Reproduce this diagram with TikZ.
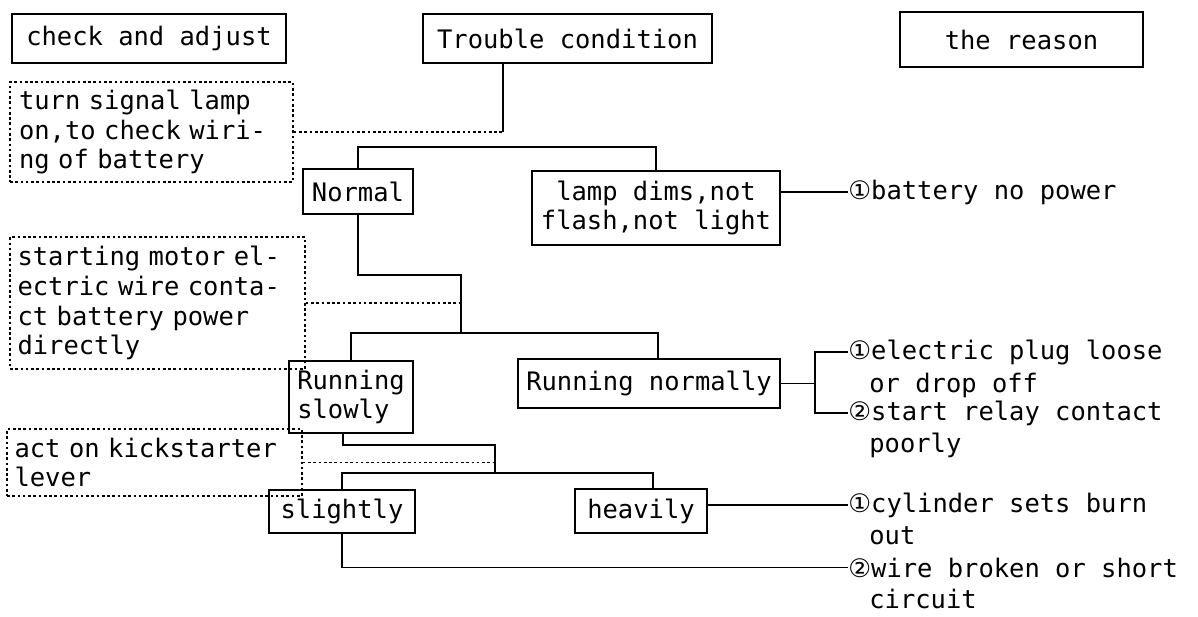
\documentclass[tikz,border=0pt]{standalone}
\usepackage{fontspec}
\setmainfont{DejaVu Sans Mono}
\newfontfamily\circfont{DejaVu Sans}
\usetikzlibrary{positioning}
\newcommand{\cno}{{\circfont ①}}
\newcommand{\cnt}{{\circfont ②}}

\begin{document}
\begin{tikzpicture}[x=0.02cm,y=-0.02cm,
  every node/.style={font=\fontsize{14.5}{17}\selectfont},
  box/.style={draw,line width=1.2pt,inner sep=0pt},
  note/.style={draw,line width=1pt,dash pattern=on 1.5pt off 1.5pt,align=left,inner xsep=0.15cm,inner ysep=0pt,text width=5.6cm},
  why/.style={anchor=base west,inner sep=0pt},
  link/.style={line width=1pt},
  dotline/.style={line width=1pt,dash pattern=on 1.5pt off 1.5pt}]
\useasboundingbox (0,0) rectangle (1198,616);
% headings
\node[box,minimum width=5.48cm,minimum height=0.98cm] (adj) at (149,38.5) {check and adjust};
\node[box,minimum width=5.78cm,minimum height=0.98cm] (trb) at (567.5,38.5) {Trouble condition};
\node[box,minimum width=4.86cm,minimum height=1.1cm] (rsn) at (1021.5,39.5) {the reason};
% checks
\node[note,text width=5.3cm,inner xsep=0.18cm,minimum height=2cm] (tsl) at (151.5,132) {turn signal lamp\\on,to check wiri-\\ng of battery};
\node[note,minimum height=2.64cm] (smt) at (157.5,303) {starting motor el-\\ectric wire conta-\\ct battery power\\directly};
\node[note,minimum height=1.34cm] (kck) at (154.5,462.5) {act on kickstarter\\lever};
% conditions
\node[box,minimum width=2.2cm,minimum height=0.9cm] (nrm) at (358,191.5) {Normal};
\node[box,align=center,minimum width=4.96cm,minimum height=1.48cm] (lmp) at (656,208) {lamp dims,not\\flash,not light};
\node[box,align=left,minimum width=2.48cm,minimum height=1.44cm] (rsl) at (351,397) {Running\\slowly};
\node[box,minimum width=5.24cm,minimum height=0.98cm] (rnm) at (649,383.5) {Running normally};
\node[box,minimum width=2.92cm,minimum height=0.86cm] (slt) at (342,511.5) {slightly};
\node[box,minimum width=2.64cm,minimum height=0.88cm] (hvy) at (641,511) {heavily};
% reasons
\node[why] (r1) at (848,199) {\cno battery no power};
\node[why] (r2) at (848,359) {\cno electric plug loose};
\node[why] (r2b) at (869,392) {or drop off};
\node[why] (r3) at (848,420) {\cnt start relay contact};
\node[why] (r3b) at (869,452) {poorly};
\node[why] (r4) at (848,512) {\cno cylinder sets burn};
\node[why] (r4b) at (869,544) {out};
\node[why] (r5) at (848,577) {\cnt wire broken or short};
\node[why] (r5b) at (869,608) {circuit};
% joints
\coordinate (j1) at (503,132);
\coordinate (b1) at (503,147);
\coordinate (c2) at (461,275);
\coordinate (b2) at (461,333);
\coordinate (c3) at (495,445);
\coordinate (b3) at (495,473);
\coordinate (k1) at (815,383.5);
\draw[link] (j1 |- trb.south) -- (j1);
\draw[dotline] (tsl.east) -- (j1);
\draw[link] (nrm.north) |- (b1) -| (lmp.north);
\draw[link] (lmp.east |- r1.west) -- (r1.west);
\draw[link] (nrm.south) |- (c2) -- (b2);
\draw[dotline] (smt.east) -- (smt.east -| b2);
\draw[link] (rsl.north) |- (b2) -| ([xshift=0.18cm]rnm.north);
\draw[link] (rnm.east) -- (k1);
\draw[link] (r2.west) -| (k1) |- (r3.west);
\draw[link] ([xshift=-0.16cm]rsl.south) |- (c3) -- (b3);
\draw[dotline] (kck.east) -- (kck.east -| b3);
\draw[link] (slt.north) |- (b3) -| ([xshift=0.24cm]hvy.north);
\draw[link] (r4.west -| hvy.east) -- (r4.west);
\draw[link] (slt.south) |- (r5.west);
\end{tikzpicture}
\end{document}
